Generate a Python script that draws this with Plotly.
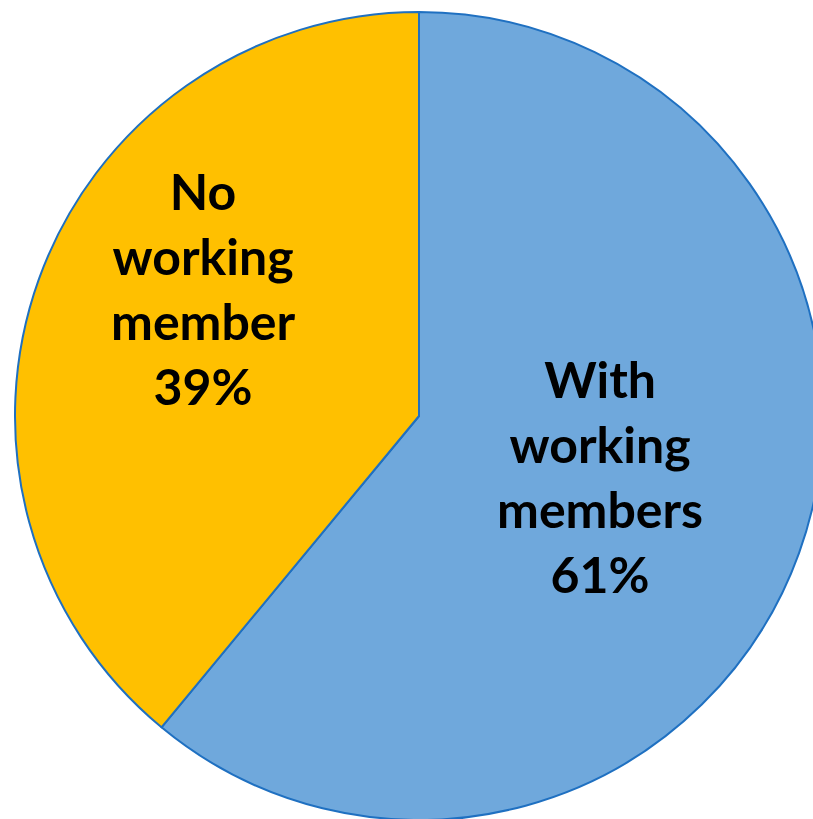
import plotly.graph_objects as go

# Households by presence of working members
categories = ["With working members", "No working member"]
label_lines = [["With", "working", "members"], ["No", "working", "member"]]
shares = [61, 39]
colors = ["#6FA8DC", "#FFC000"]

W, H = 838, 838
cx, cy, r = 419, 416, 404

fig = go.Figure(
    go.Pie(
        labels=categories,
        values=shares,
        sort=False,
        direction="clockwise",
        rotation=0,
        marker=dict(colors=colors, line=dict(color="#1F70C1", width=2)),
        textinfo="none",
        hoverinfo="label+percent",
        showlegend=False,
        domain=dict(x=[(cx - r) / W, (cx + r) / W], y=[1 - (cy + r) / H, 1 - (cy - r) / H]),
    )
)

# label centres in pixels
label_pos = [(600, 476), (203, 288)]
for lines, v, (px, py) in zip(label_lines, shares, label_pos):
    fig.add_annotation(
        x=px / W, y=1 - py / H, xref="paper", yref="paper",
        text="<br>".join(lines + [f"{v}%"]),
        showarrow=False,
        font=dict(family="Lato", size=50, color="black", weight="bold"),
        xanchor="center", yanchor="middle", align="center",
    )

fig.update_layout(
    width=W, height=H,
    margin=dict(l=0, r=0, t=0, b=0),
    paper_bgcolor="white",
    plot_bgcolor="white",
)

fig.write_html(
    "out.html",
    post_script="document.documentElement.style.overflow='hidden';document.body.style.overflow='hidden';document.body.style.margin='0';",
)
